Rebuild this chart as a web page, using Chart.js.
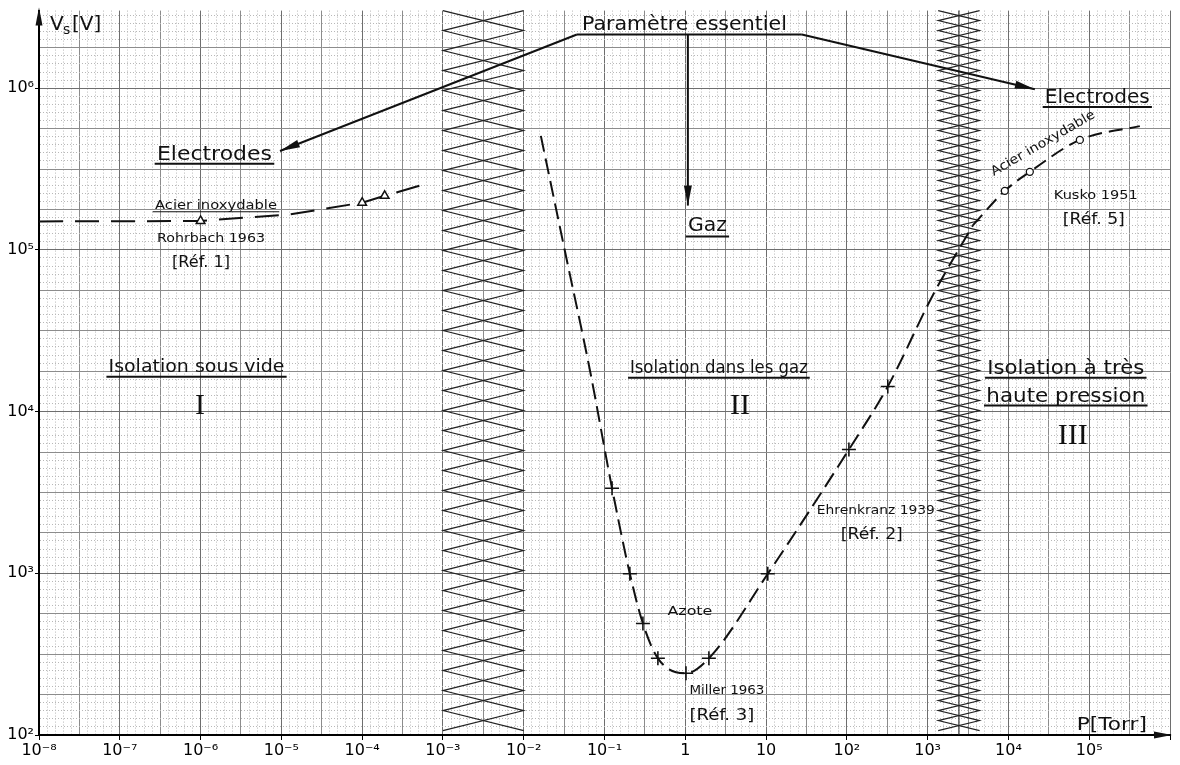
<!DOCTYPE html>
<html lang="fr">
<head>
<meta charset="utf-8">
<title>Tension disruptive Vs en fonction de la pression</title>
<script src="https://cdn.jsdelivr.net/npm/chart.js@4.4.1/dist/chart.umd.min.js"></script>
<style>
  html, body { margin: 0; padding: 0; background: #fff; }
  #wrap { width: 1180px; height: 765px; }
</style>
</head>
<body>
<div id="wrap"><canvas id="chart" width="1180" height="765"></canvas></div>
<script>
/* ============================================
   Vs [V] vs P [Torr] - vide / gaz / haute pression
   ============================================ */

// --- Axes ---
const pressureDecades = [-8, -7, -6, -5, -4, -3, -2, -1, 0, 1, 2, 3, 4, 5];
const pressureLabels = ['10⁻⁸', '10⁻⁷', '10⁻⁶', '10⁻⁵', '10⁻⁴', '10⁻³', '10⁻²', '10⁻¹', '1', '10', '10²', '10³', '10⁴', '10⁵'];
const voltageDecades = [2, 3, 4, 5, 6];
const voltageLabels = ['10²', '10³', '10⁴', '10⁵', '10⁶'];

// --- Rohrbach 1963, acier inoxydable (vide) ---
const vacuumP = [1e-8, 1e-6, 1.3e-5, 1e-4, 1.9e-4, 5.2e-4];
const vacuumV = [1.5e5, 1.51e5, 1.66e5, 1.96e5, 2.16e5, 2.5e5];
const vacuumMarked = [false, true, false, true, true, false];

// --- Azote : Miller 1963 / Ehrenkranz 1939 ---
const gasP = [0.0163, 0.0324, 0.0659, 0.124, 0.206, 0.299, 0.458, 1.02, 1.96, 10.5, 106, 321, 1160, 3630];
const gasV = [5.07e5, 9.8e4, 1.81e4, 3.36e3, 993, 489, 298, 241, 298, 993, 5.83e3, 1.43e4, 5.25e4, 1.42e5];
const gasMarked = [false, false, false, true, true, true, true, true, true, true, true, true, false, false];

// --- Kusko 1951, acier inoxydable (haute pression) ---
const highP = [3630, 9020, 1.84e4, 7.66e4, 4.23e5];
const highV = [1.42e5, 2.32e5, 3.04e5, 4.79e5, 5.83e5];
const highMarked = [false, true, true, true, false];

// hatched separations between the three domains
const bands = [
  { from: 1e-3, to: 1e-2, pitch: 20, center: false },
  { from: 1.35e3, to: 4.4e3, pitch: 10, center: true },
];

// text placed in log10 data units (lx, ly = baseline)
const notes = [
  { text: 'Paramètre essentiel', lx: -0.011, ly: 6.357, size: 19, w: 205 },
  { text: 'Electrodes', lx: -5.828, ly: 5.557, size: 19, w: 115, ul: 4 },
  { text: 'Electrodes', lx: 5.100, ly: 5.908, size: 19, w: 105, ul: 4 },
  { text: 'Gaz', lx: 0.274, ly: 5.114, size: 19, w: 39, ul: 5 },
  { text: 'Acier inoxydable', lx: -5.809, ly: 5.255, size: 13, w: 122, ul: 3, ulw: 1 },
  { text: 'Rohrbach 1963', lx: -5.871, ly: 5.052, size: 13, w: 108 },
  { text: '[Réf. 1]', lx: -5.995, ly: 4.892, size: 15, w: 58 },
  { text: 'Isolation sous vide', lx: -6.05, ly: 4.246, size: 18, w: 176, ul: 5 },
  { text: 'I', lx: -6.007, ly: 3.988, size: 30, serif: true },
  { text: 'Isolation dans les gaz', lx: 0.416, ly: 4.24, size: 18, w: 178, ul: 5 },
  { text: 'II', lx: 0.676, ly: 3.988, size: 30, serif: true },
  { text: 'Isolation à très', lx: 4.71, ly: 4.234, size: 19, w: 157, ul: 4 },
  { text: 'haute pression', lx: 4.71, ly: 4.062, size: 19, w: 159, ul: 4 },
  { text: 'III', lx: 4.797, ly: 3.797, size: 30, serif: true },
  { text: 'Azote', lx: 0.057, ly: 2.745, size: 13, w: 45 },
  { text: 'Miller 1963', lx: 0.515, ly: 2.252, size: 13, w: 75 },
  { text: '[Réf. 3]', lx: 0.453, ly: 2.092, size: 15, w: 65 },
  { text: 'Ehrenkranz 1939', lx: 2.359, ly: 3.366, size: 13, w: 118 },
  { text: '[Réf. 2]', lx: 2.309, ly: 3.212, size: 15, w: 62 },
  { text: 'Kusko 1951', lx: 5.082, ly: 5.317, size: 13, w: 84 },
  { text: '[Réf. 5]', lx: 5.057, ly: 5.163, size: 15, w: 62 },
  { text: 'Acier inoxydable', lx: 4.45, ly: 5.64, size: 13, w: 118, rot: -30 },
  { text: 'P[Torr]', lx: 5.28, ly: 2.03, size: 18, w: 70 },
];

// "Paramètre essentiel" pointers, log10 data units
const pointers = [
  { from: [-1.342, 6.332], to: [1.443, 6.332], head: false },
  { from: [-1.342, 6.332], to: [-5.017, 5.612], head: true },
  { from: [1.443, 6.332], to: [4.327, 5.994], head: true },
  { from: [0.032, 6.332], to: [0.032, 5.274], head: true },
];

const FONT = 'DejaVu Sans';

function toPoints(xs, ys) {
  return xs.map((x, i) => ({ x, y: ys[i] }));
}

function pressureLabel(tick) {
  if (!tick || tick.k % 10 !== 0) return '';
  const i = pressureDecades.indexOf(tick.k / 10);
  return i >= 0 ? pressureLabels[i] : '';
}

function voltageLabel(tick) {
  if (!tick || tick.k % 20 !== 0) return '';
  const i = voltageDecades.indexOf(tick.k / 20);
  return i >= 0 ? voltageLabels[i] : '';
}

// graph paper: heavy line every 1 cm, dotted in between
function paperColor(tick, heavy, decade) {
  if (!tick) return '#000';
  if (tick.k % decade === 0) return '#6e6e6e';
  if (tick.k % heavy === 0) return '#8c8c8c';
  return '#b8b8b8';
}

function arrowHead(ctx, x1, y1, x2, y2, len, half) {
  const a = Math.atan2(y2 - y1, x2 - x1);
  ctx.beginPath();
  ctx.moveTo(x2, y2);
  ctx.lineTo(x2 - len * Math.cos(a) + half * Math.sin(a), y2 - len * Math.sin(a) - half * Math.cos(a));
  ctx.lineTo(x2 - len * Math.cos(a) - half * Math.sin(a), y2 - len * Math.sin(a) + half * Math.cos(a));
  ctx.closePath();
  ctx.fill();
}

const paperPlugin = {
  id: 'paper',
  beforeDatasetsDraw(chart) {
    const { ctx, chartArea, scales } = chart;
    ctx.save();
    ctx.strokeStyle = '#222';
    ctx.lineWidth = 1.1;
    bands.forEach(b => {
      const l = scales.x.getPixelForValue(b.from);
      const r = scales.x.getPixelForValue(b.to);
      [0, 1].forEach(phase => {
        ctx.beginPath();
        let side = phase;
        for (let y = chartArea.top; y <= chartArea.bottom + 0.5; y += b.pitch) {
          const x = side ? r : l;
          if (y === chartArea.top) ctx.moveTo(x, y); else ctx.lineTo(x, y);
          side = 1 - side;
        }
        ctx.stroke();
      });
      if (b.center) {
        ctx.beginPath();
        ctx.moveTo((l + r) / 2, chartArea.top);
        ctx.lineTo((l + r) / 2, chartArea.bottom);
        ctx.stroke();
      }
    });
    ctx.restore();
  },
  afterDatasetsDraw(chart) {
    const { ctx, chartArea, scales } = chart;
    const px = lx => scales.x.getPixelForValue(Math.pow(10, lx));
    const py = ly => scales.y.getPixelForValue(Math.pow(10, ly));
    ctx.save();
    ctx.fillStyle = '#111';
    ctx.strokeStyle = '#111';

    // pointers
    pointers.forEach(p => {
      const x1 = px(p.from[0]), y1 = py(p.from[1]);
      const x2 = px(p.to[0]), y2 = py(p.to[1]);
      ctx.lineWidth = 2;
      ctx.beginPath();
      ctx.moveTo(x1, y1);
      ctx.lineTo(x2, y2);
      ctx.stroke();
      if (p.head) arrowHead(ctx, x1, y1, x2, y2, 20, 4);
    });

    // texts
    notes.forEach(n => {
      ctx.save();
      ctx.translate(px(n.lx), py(n.ly));
      if (n.rot) ctx.rotate(n.rot * Math.PI / 180);
      ctx.font = n.serif ? `${n.size}px "Liberation Serif"` : `${n.size}px "${FONT}"`;
      const w = ctx.measureText(n.text).width;
      if (n.w) ctx.scale(n.w / w, 1);
      ctx.textAlign = 'center';
      ctx.textBaseline = 'alphabetic';
      ctx.fillText(n.text, 0, 0);
      if (n.ul) {
        ctx.lineWidth = n.ulw || 2;
        ctx.beginPath();
        ctx.moveTo(-w / 2 - 2, n.ul);
        ctx.lineTo(w / 2 + 2, n.ul);
        ctx.stroke();
      }
      ctx.restore();
    });

    // axis title Vs[V]
    const vx = chartArea.left + 11, vy = chartArea.top + 19;
    ctx.textAlign = 'left';
    ctx.textBaseline = 'alphabetic';
    ctx.font = `20px "${FONT}"`;
    ctx.fillText('V', vx, vy);
    ctx.font = `14px "${FONT}"`;
    ctx.fillText('s', vx + 13, vy + 4);
    ctx.font = `20px "${FONT}"`;
    ctx.fillText('[V]', vx + 22, vy);

    // axis arrows
    arrowHead(ctx, chartArea.left, chartArea.top + 20, chartArea.left, chartArea.top - 3, 18, 3.5);
    arrowHead(ctx, chartArea.right - 20, chartArea.bottom, chartArea.right + 2, chartArea.bottom, 18, 3.5);
    ctx.restore();
  }
};

const chart = new Chart(document.getElementById('chart'), {
  type: 'line',
  data: {
    datasets: [
      {
        label: 'Rohrbach 1963',
        data: toPoints(vacuumP, vacuumV),
        borderColor: '#111',
        borderWidth: 2,
        borderDash: [24, 12],
        fill: false,
        pointStyle: 'triangle',
        pointRadius: ctx => vacuumMarked[ctx.dataIndex] ? 5 : 0,
        pointBorderWidth: 1.5,
        pointBorderColor: '#111',
        pointBackgroundColor: '#fff',
      },
      {
        label: 'Azote',
        data: toPoints(gasP, gasV),
        borderColor: '#111',
        borderWidth: 2,
        borderDash: [16, 7],
        cubicInterpolationMode: 'monotone',
        fill: false,
        pointStyle: 'cross',
        pointRadius: ctx => gasMarked[ctx.dataIndex] ? 7 : 0,
        pointBorderWidth: 1.6,
        pointBorderColor: '#111',
      },
      {
        label: 'Kusko 1951',
        data: toPoints(highP, highV),
        borderColor: '#111',
        borderWidth: 2,
        borderDash: [14, 7],
        cubicInterpolationMode: 'monotone',
        fill: false,
        pointStyle: 'circle',
        pointRadius: ctx => highMarked[ctx.dataIndex] ? 3.5 : 0,
        pointBorderWidth: 1.3,
        pointBorderColor: '#111',
        pointBackgroundColor: '#fff',
      },
    ],
  },
  options: {
    responsive: false,
    devicePixelRatio: 1,
    animation: false,
    layout: { padding: { top: 7, right: 10, left: 0, bottom: 0 } },
    plugins: { legend: { display: false }, tooltip: { enabled: false } },
    scales: {
      x: {
        type: 'logarithmic',
        min: 1e-8,
        max: 1e6,
        bounds: 'data',
        afterBuildTicks: scale => {
          const t = [];
          for (let k = -80; k <= 60; k++) t.push({ value: Math.pow(10, k / 10), k });
          scale.ticks = t;
        },
        afterFit: scale => { scale.height = 30; },
        grid: {
          color: ctx => paperColor(ctx.tick, 5, 10),
          lineWidth: 1,
          tickColor: ctx => (ctx.tick && ctx.tick.k % 10 === 0) ? '#000' : 'rgba(0,0,0,0)',
          tickLength: 5,
        },
        border: { color: '#000', width: 2, dash: ctx => (ctx.tick && ctx.tick.k % 5 !== 0) ? [1, 2] : [] },
        ticks: {
          autoSkip: false,
          maxRotation: 0,
          padding: 1,
          color: '#000',
          font: { family: FONT, size: 16 },
          callback: (v, i, ticks) => pressureLabel(ticks[i]),
        },
      },
      y: {
        type: 'logarithmic',
        min: 1e2,
        max: Math.pow(10, 6.48),
        bounds: 'data',
        afterBuildTicks: scale => {
          const t = [];
          for (let k = 40; k <= 129; k++) t.push({ value: Math.pow(10, k / 20), k });
          scale.ticks = t;
        },
        afterFit: scale => { scale.width = 39; },
        grid: {
          color: ctx => paperColor(ctx.tick, 5, 20),
          lineWidth: 1,
          tickColor: ctx => (ctx.tick && ctx.tick.k % 20 === 0) ? '#000' : 'rgba(0,0,0,0)',
          tickLength: 4,
        },
        border: { color: '#000', width: 2, dash: ctx => (ctx.tick && ctx.tick.k % 5 !== 0) ? [1, 2] : [] },
        ticks: {
          autoSkip: false,
          padding: 1,
          color: '#000',
          font: { family: FONT, size: 16 },
          callback: (v, i, ticks) => voltageLabel(ticks[i]),
        },
      },
    },
  },
  plugins: [paperPlugin],
});
</script>
</body>
</html>
